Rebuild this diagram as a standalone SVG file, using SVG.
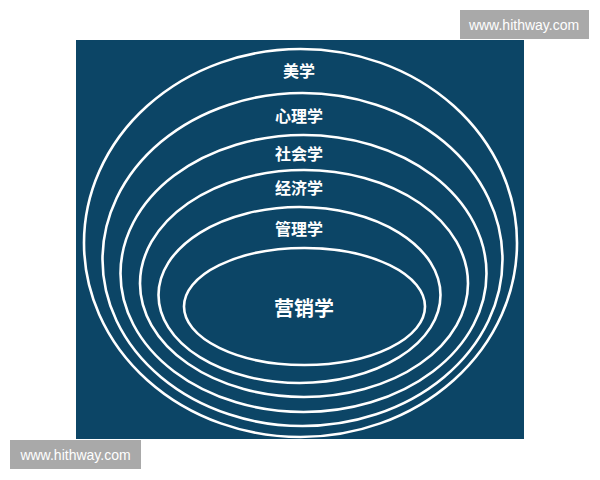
<svg xmlns="http://www.w3.org/2000/svg" width="600" height="480" viewBox="0 0 600 480">
<style>
.ring{fill:none;stroke:#ffffff;stroke-width:2.6}
.lbl{fill:#ffffff;font-family:"Noto Sans CJK SC","Noto Sans",sans-serif;font-size:16px;font-weight:bold;text-anchor:middle;dominant-baseline:central}
.wm{fill:#a9a9a9}
.wmt{fill:#ffffff;font-family:"Liberation Sans",Arial,sans-serif;font-size:14px;text-anchor:middle;dominant-baseline:central}
</style>
<rect width="600" height="480" fill="#ffffff"/>
<rect x="76" y="40" width="448" height="399" fill="#0c4566"/>
<defs><clipPath id="c"><rect x="76" y="40" width="448" height="399"/></clipPath></defs>
<g clip-path="url(#c)">
<g id="aesthetics"><ellipse class="ring" cx="300.5" cy="243" rx="216.5" ry="194"/><text class="lbl" x="299" y="70">美学</text></g>
<g id="psychology"><ellipse class="ring" cx="302.5" cy="259.5" rx="200" ry="166.5"/><text class="lbl" x="299" y="115">心理学</text></g>
<g id="sociology"><ellipse class="ring" cx="303.5" cy="273.5" rx="183" ry="138.5"/><text class="lbl" x="299" y="153">社会学</text></g>
<g id="economics"><ellipse class="ring" cx="304" cy="283.5" rx="164" ry="113.5"/><text class="lbl" x="299" y="187">经济学</text></g>
<g id="management"><ellipse class="ring" cx="299.5" cy="295" rx="141" ry="88"/><text class="lbl" x="299" y="228">管理学</text></g>
<g id="marketing"><ellipse class="ring" cx="304.5" cy="306.5" rx="120.5" ry="58.5"/><text class="lbl" x="304" y="307" style="font-size:20px">营销学</text></g>
</g>
<g id="connectors"></g>
<g id="watermark-top"><rect class="wm" x="460" y="10" width="129" height="29"/><text class="wmt" x="524" y="24.5">www.hithway.com</text></g>
<g id="watermark-bottom"><rect class="wm" x="10" y="440" width="131" height="29"/><text class="wmt" x="75.5" y="454.5">www.hithway.com</text></g>
</svg>
